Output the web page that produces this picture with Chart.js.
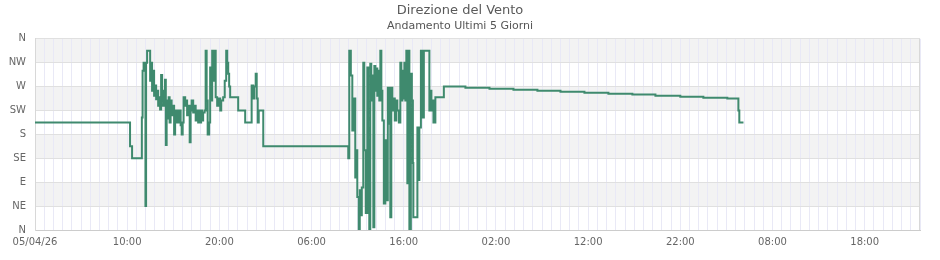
<!DOCTYPE html>
<html>
<head>
<meta charset="utf-8">
<script src="https://cdn.jsdelivr.net/npm/chart.js@4/dist/chart.umd.min.js"></script>
<style>
  html, body { margin: 0; padding: 0; background: #fff; }
  #wrap { width: 940px; height: 260px; }
</style>
</head>
<body>
<div id="wrap"><canvas id="windChart" width="940" height="260"></canvas></div>
<script>
// hours since 05/04/26 00:00, direction in degrees (0 = N)
const day1Hours = [0, 10.31, 10.53, 11.59, 11.67, 11.78, 11.98, 12.05, 12.16, 12.49,
  12.6, 12.7, 12.81, 12.92, 13.03, 13.14, 13.25, 13.36, 13.46, 13.57,
  13.68, 13.79, 13.9, 14.0, 14.1, 14.19, 14.28, 14.39, 14.5, 14.6,
  14.71, 14.82, 14.93, 15.09, 15.2, 15.31, 15.42, 15.53, 15.64, 15.8,
  15.91, 16.02, 16.12, 16.29, 16.4, 16.5, 16.61, 16.78, 16.88, 16.99,
  17.16, 17.26, 17.43, 17.59, 17.7, 17.81, 17.92, 18.02, 18.13, 18.24,
  18.4, 18.51, 18.62, 18.73, 18.89, 19.0, 19.11, 19.22, 19.33, 19.49,
  19.6, 19.76, 19.92, 20.09, 20.2, 20.41, 20.58, 20.74, 20.85, 20.96,
  21.06, 21.17, 22.04, 22.8, 23.5, 23.67, 23.78, 23.94, 24.05, 24.16,
  24.27, 24.76];
const day1Dirs = [202.5, 157.5, 135, 212, 300, 315, 45, 315, 337.5, 281,
  315, 262, 300, 253, 272, 246, 262, 234, 250, 227,
  292, 253, 234, 262, 283, 160, 244, 210, 250, 202.5,
  244, 216, 234, 180, 225, 202.5, 225, 202.5, 225, 197,
  180, 202.5, 250, 234, 244, 216, 234, 165, 225, 244,
  221, 234, 206, 225, 202.5, 225, 202.5, 225, 206, 221,
  225, 337.5, 244, 180, 202.5, 306, 244, 337.5, 281, 337.5,
  250, 234, 247.5, 225, 244, 250, 281, 337.5, 315, 294,
  270, 250, 225, 202.5, 272, 247.5, 270, 294, 247.5, 202.5,
  225, 157.5];

const day2Hours = [33.98, 34.09, 34.26, 34.42, 34.58, 34.74, 34.85, 34.96, 35.12, 35.23,
  35.34, 35.45, 35.61, 35.72, 35.88, 36.05, 36.15, 36.26, 36.37, 36.48,
  36.59, 36.7, 36.81, 36.92, 37.03, 37.13, 37.24, 37.35, 37.46, 37.57,
  37.68, 37.84, 38.0, 38.11, 38.27, 38.44, 38.54, 38.65, 38.76, 38.87,
  39.03, 39.19, 39.3, 39.47, 39.63, 39.74, 39.85, 39.96, 40.07, 40.17,
  40.28, 40.39, 40.5, 40.61, 40.77, 40.88, 40.99, 41.04, 41.48, 41.58,
  41.69, 41.86, 41.97, 42.18, 42.78, 42.89, 43.0, 43.11, 43.22, 43.43];
const day2Dirs = [135, 337.5, 291, 187.5, 247.5, 99, 150, 62, 2, 75,
  28, 80, 315, 150, 32, 306, 169, 2, 313, 244,
  291, 5, 309, 262, 304, 253, 300, 244, 337.5, 262,
  206, 50, 169, 56, 268, 200, 24, 268, 225, 247.5,
  206, 244, 225, 202.5, 315, 244, 300, 247.5, 315, 244,
  337.5, 88, 337.5, 2, 294, 244, 126, 24, 193, 94,
  193, 337.5, 212, 337.5, 225, 262, 225, 244, 202.5, 250];

const lateHours = [44.35, 46.69, 49.3, 51.9, 54.5, 57.0, 59.6, 62.2, 64.8, 67.3,
  70.0, 72.5, 75.1, 76.3, 76.4, 76.85];
const lateDirs = [270, 268, 266, 264, 262, 260.5, 258.5, 256.5, 255, 253,
  251, 249, 247.5, 225, 202.5, 202.5];

const xTickLabels = ['05/04/26', '10:00', '20:00', '06:00', '16:00', '02:00', '12:00', '22:00', '08:00', '18:00'];
const yTickLabels = ['N', 'NE', 'E', 'SE', 'S', 'SW', 'W', 'NW', 'N'];

const hours = day1Hours.concat(day2Hours, lateHours);
const dirs = day1Dirs.concat(day2Dirs, lateDirs);
const points = hours.map((h, i) => ({ x: h, y: dirs[i] }));

// alternate grey bands behind the grid
const bandPlugin = {
  id: 'bands',
  beforeDraw(chart) {
    const { ctx, chartArea, scales } = chart;
    ctx.save();
    ctx.fillStyle = '#f3f3f3';
    for (let v = 0; v < 360; v += 90) {
      const top = scales.y.getPixelForValue(v + 90);
      const bot = scales.y.getPixelForValue(v + 45);
      ctx.fillRect(chartArea.left, top, chartArea.right - chartArea.left, bot - top);
    }
    ctx.restore();
  },
  afterDraw(chart) {
    const { ctx, chartArea } = chart;
    ctx.save();
    ctx.strokeStyle = '#d8d8d8';
    ctx.lineWidth = 1;
    ctx.beginPath();
    ctx.moveTo(Math.round(chartArea.right) - 0.5, chartArea.top);
    ctx.lineTo(Math.round(chartArea.right) - 0.5, chartArea.bottom);
    ctx.stroke();
    ctx.restore();
  }
};

new Chart(document.getElementById('windChart'), {
  type: 'line',
  data: {
    datasets: [{
      data: points,
      borderColor: '#3f8a6e',
      borderWidth: 2,
      pointRadius: 0,
      stepped: true,
      fill: false
    }]
  },
  options: {
    responsive: false,
    animation: false,
    layout: { padding: { left: 0, right: 20, top: 0, bottom: 0 } },
    plugins: {
      legend: { display: false },
      tooltip: { enabled: false },
      title: {
        display: true,
        text: 'Direzione del Vento',
        color: '#5a5a5a',
        font: { family: 'DejaVu Sans', size: 13, weight: 'normal' },
        padding: { top: 3, bottom: 0 }
      },
      subtitle: {
        display: true,
        text: 'Andamento Ultimi 5 Giorni',
        color: '#555',
        font: { family: 'DejaVu Sans', size: 11 },
        padding: { top: 1, bottom: 6 }
      }
    },
    scales: {
      x: {
        type: 'linear',
        min: 0,
        max: 96,
        afterFit: (s) => { s.height = 30; },
        grid: { color: '#e9e9f6', drawTicks: false },
        border: { color: '#cccccc' },
        ticks: {
          stepSize: 1,
          autoSkip: false,
          maxRotation: 0,
          padding: 6,
          color: '#666',
          font: { family: 'DejaVu Sans', size: 10 },
          callback: (v) => (v % 10 === 0 ? xTickLabels[v / 10] : '')
        }
      },
      y: {
        min: 0,
        max: 360,
        afterFit: (s) => { s.width = 35; },
        grid: { color: '#e0e0e0', drawTicks: false },
        border: { color: '#d8d8d8' },
        ticks: {
          stepSize: 45,
          padding: 9,
          color: '#666',
          font: { family: 'DejaVu Sans', size: 10 },
          callback: (v) => yTickLabels[v / 45]
        }
      }
    }
  },
  plugins: [bandPlugin]
});
</script>
</body>
</html>
